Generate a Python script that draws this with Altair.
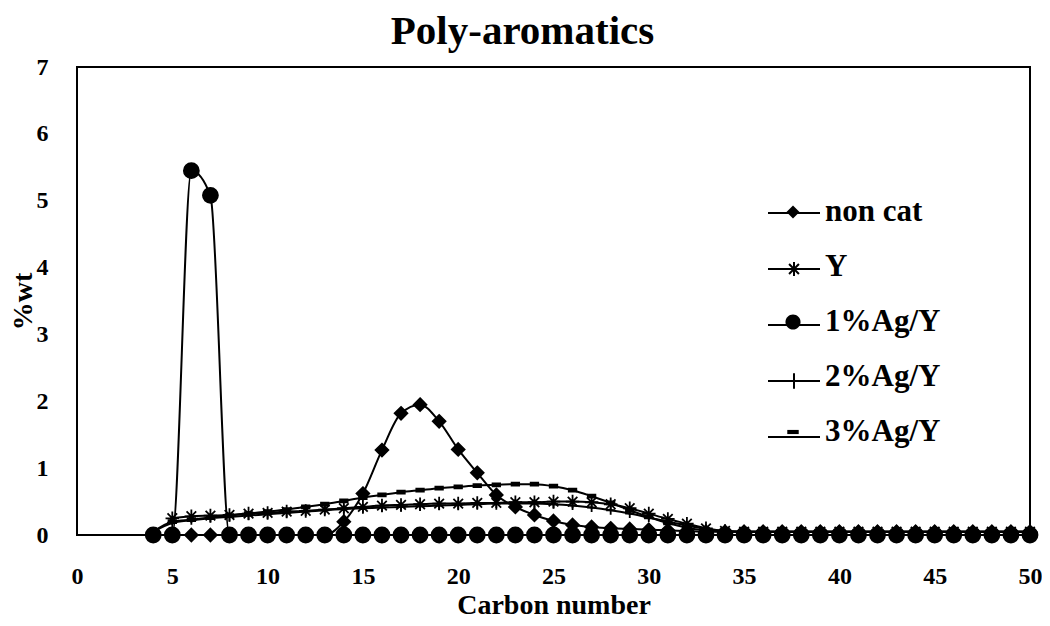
import altair as alt
import pandas as pd

carbon = [4, 5, 6, 7, 8, 9, 10, 11, 12, 13, 14, 15, 16, 17, 18, 19, 20, 21, 22, 23, 24,
          25, 26, 27, 28, 29, 30, 31, 32, 33, 34, 35, 36, 37, 38, 39, 40, 41, 42, 43,
          44, 45, 46, 47, 48, 49, 50]

non_cat = [0, 0, 0, 0, 0, 0, 0, 0, 0, 0,
           0.2, 0.62, 1.27, 1.82, 1.95, 1.7, 1.28, 0.93, 0.6, 0.42, 0.3, 0.21, 0.15,
           0.12, 0.1, 0.09, 0.08, 0.07, 0.06,
           0.05, 0.05, 0.05, 0.05, 0.05, 0.05, 0.05, 0.05, 0.05, 0.05, 0.05, 0.05,
           0.05, 0.05, 0.05, 0.05, 0.05, 0.05]

y_cat = [None,
         0.25, 0.28, 0.29, 0.3, 0.32, 0.33, 0.35, 0.36, 0.38, 0.4, 0.42, 0.44, 0.45,
         0.46, 0.47, 0.47, 0.48, 0.48, 0.49, 0.49, 0.5, 0.5, 0.49, 0.46, 0.4, 0.32,
         0.24, 0.17, 0.1, 0.06,
         0.05, 0.05, 0.05, 0.05, 0.05, 0.05, 0.05, 0.05, 0.05, 0.05, 0.05, 0.05,
         0.05, 0.05, 0.05, 0.05]

ag1 = [0, 0, 5.45, 5.08,
       0, 0, 0, 0, 0, 0, 0, 0, 0, 0, 0, 0, 0, 0, 0, 0, 0, 0, 0, 0, 0, 0,
       0, 0, 0, 0, 0, 0, 0, 0, 0, 0, 0, 0, 0, 0, 0, 0, 0, 0, 0, 0, 0]

ag2 = [0.05, 0.18, 0.22, 0.25, 0.27, 0.29, 0.31, 0.33, 0.35, 0.37, 0.39, 0.4, 0.41,
       0.42, 0.43, 0.44, 0.45, 0.46, 0.47, 0.47, 0.47, 0.46, 0.44, 0.41, 0.37, 0.32,
       0.26, 0.2, 0.14, 0.09, 0.06,
       0.05, 0.05, 0.05, 0.05, 0.05, 0.05, 0.05, 0.05, 0.05, 0.05, 0.05, 0.05,
       0.05, 0.05, 0.05, 0.05]

ag3 = [0.05, 0.2, 0.23, 0.26, 0.29, 0.32, 0.35, 0.38, 0.42, 0.46, 0.51, 0.56, 0.6,
       0.64, 0.67, 0.7, 0.72, 0.74, 0.75, 0.76, 0.76, 0.73, 0.67, 0.58, 0.48, 0.37,
       0.27, 0.18, 0.11, 0.07,
       0.05, 0.05, 0.05, 0.05, 0.05, 0.05, 0.05, 0.05, 0.05, 0.05, 0.05, 0.05,
       0.05, 0.05, 0.05, 0.05, 0.05]

series_names = ["non cat", "Y", "1%Ag/Y", "2%Ag/Y", "3%Ag/Y"]
series_values = [non_cat, y_cat, ag1, ag2, ag3]
x_ticks = [0, 5, 10, 15, 20, 25, 30, 35, 40, 45, 50]
y_ticks = [0, 1, 2, 3, 4, 5, 6, 7]

rows = []
for name, vals in zip(series_names, series_values):
    for c, v in zip(carbon, vals):
        if v is not None:
            rows.append({"carbon": c, "wt": v, "series": name})
df = pd.DataFrame(rows)

marker_paths = [
    "M0,-0.85L0.85,0L0,0.85L-0.85,0Z",
    "M-0.9,0H0.9M0,-0.9V0.9M-0.64,-0.64L0.64,0.64M-0.64,0.64L0.64,-0.64",
    "M1,0A1,1,0,1,1,-1,0A1,1,0,1,1,1,0Z",
    "M-0.6,0H0.6M0,-0.6V0.6",
    "M-0.5,-0.2H0.5V0.2H-0.5Z",
]
# legend symbols: filled parts and stroked parts drawn as two overlaid legends
legend_fill_paths = [
    "M0,-0.25L0.25,0L0,0.25L-0.25,0Z",
    "M0,-0.01L0.01,0L0,0.01Z",
    "M0.29,0A0.29,0.29,0,1,1,-0.29,0A0.29,0.29,0,1,1,0.29,0Z",
    "M0,-0.01L0.01,0L0,0.01Z",
    "M-0.22,-0.08H0.22V0.08H-0.22Z",
]
legend_stroke_paths = [
    "M-1,0H1",
    "M-1,0H1M0,-0.27V0.27M-0.19,-0.19L0.19,0.19M-0.19,0.19L0.19,-0.19",
    "M-1,0H1",
    "M-1,0H1M0,-0.3V0.3",
    "M-1,0H1",
]

serif = "Liberation Serif"
xenc = alt.X("carbon:Q", scale=alt.Scale(domain=[0, 50], nice=False),
             axis=alt.Axis(values=x_ticks, title="Carbon number", labelPadding=29,
                           titlePadding=3, labelFlush=False))
yenc = alt.Y("wt:Q", scale=alt.Scale(domain=[0, 7], nice=False),
             axis=alt.Axis(values=y_ticks, title="%wt", labelPadding=29,
                           titlePadding=-1, labelFlush=False))

base = alt.Chart(df)

lines = base.mark_line(color="black", strokeWidth=2, interpolate="monotone").encode(
    x=xenc, y=yenc, detail="series:N"
)

points = base.mark_point(fill="black", stroke="black", strokeWidth=1.8, opacity=1,
                         fillOpacity=1, size=225).encode(
    x=xenc, y=yenc,
    shape=alt.Shape("series:N", scale=alt.Scale(domain=series_names, range=marker_paths),
                    legend=None),
)

legend_common = dict(title=None, orient="none", legendX=690, legendY=119,
                     symbolSize=2704, symbolOpacity=1, rowPadding=14, labelOffset=6,
                     labelFont=serif, labelFontSize=31, labelFontWeight="bold",
                     labelColor="black", labelLimit=400)

# legend-only layers: no marks drawn (filtered out), legends built from shape scales
legend_fill = base.transform_filter("datum.carbon < 0").mark_point(
    filled=True, color="black", size=2704).encode(
    x=xenc, y=yenc,
    shape=alt.Shape("series:N",
                    scale=alt.Scale(domain=series_names, range=legend_fill_paths),
                    legend=alt.Legend(symbolFillColor="black", symbolStrokeWidth=0,
                                      **legend_common)),
)

legend_stroke = base.transform_filter("datum.carbon < 0").mark_point(
    filled=False, color="black", strokeWidth=2, size=2704).encode(
    x=xenc, y=yenc,
    shape=alt.Shape("series:N",
                    scale=alt.Scale(domain=series_names, range=legend_stroke_paths),
                    legend=alt.Legend(symbolStrokeColor="black", symbolStrokeWidth=2,
                                      labelExpr="' '", **legend_common)),
)

chart = alt.layer(lines, points, legend_fill, legend_stroke).resolve_scale(
    shape="independent"
).properties(
    width=953, height=468,
    autosize=alt.AutoSizeParams(type="none"),
    padding={"left": 69, "top": 59, "right": 12, "bottom": 83},
    title=alt.TitleParams("Poly-aromatics", font=serif, fontSize=41, fontWeight="bold",
                          color="black", offset=2, dx=-31, anchor="middle"),
).configure_view(stroke="black", strokeWidth=2).configure_axis(
    grid=False, ticks=False, domain=False,
    labelFont=serif, labelFontSize=24, labelFontWeight="bold", labelColor="black",
    titleFont=serif, titleFontSize=28, titleFontWeight="bold", titleColor="black",
)

chart.save("out.html", embed_options={"renderer": "svg", "actions": False})
